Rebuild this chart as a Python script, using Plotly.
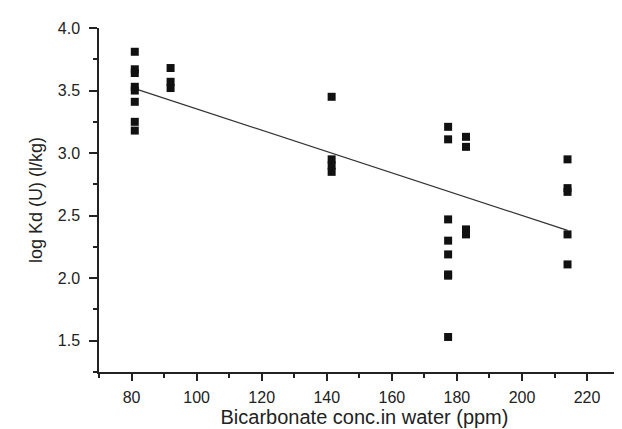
import plotly.graph_objects as go

# Bicarbonate concentration (ppm) groups and measured log Kd values
x_groups = [81.0, 92.0, 141.5, 177.3, 182.8, 214.0]
y_groups = [
    [3.81, 3.67, 3.64, 3.53, 3.50, 3.41, 3.25, 3.18],
    [3.68, 3.57, 3.52],
    [3.45, 2.95, 2.90, 2.85],
    [3.21, 3.11, 2.47, 2.30, 2.19, 2.03, 2.02, 1.53],
    [3.13, 3.05, 2.39, 2.35],
    [2.95, 2.72, 2.69, 2.35, 2.11],
]

# regression line parameters
fit_intercept = 4.205
fit_slope = -0.00852
fit_x = [81.0, 214.0]

xs, ys = [], []
for xv, yl in zip(x_groups, y_groups):
    for yv in yl:
        xs.append(xv)
        ys.append(yv)

fit_y = [fit_intercept + fit_slope * v for v in fit_x]

fig = go.Figure()
fig.add_trace(go.Scatter(
    x=fit_x, y=fit_y, mode="lines",
    line=dict(color="#333333", width=1.2),
    showlegend=False, hoverinfo="skip"))
fig.add_trace(go.Scatter(
    x=xs, y=ys, mode="markers",
    marker=dict(symbol="square", size=8, color="#111111",
                line=dict(width=0)),
    showlegend=False))

font = dict(family="Liberation Sans, Arial, sans-serif", size=16, color="#222222")

fig.update_layout(
    width=622, height=429,
    margin=dict(l=91, r=0, t=20, b=65),
    plot_bgcolor="white", paper_bgcolor="white",
    font=font,
    xaxis=dict(
        range=[70, 233.2], showline=True, linecolor="#222222", linewidth=1.5,
        ticks="outside", ticklen=7, tickwidth=1.5, tickcolor="#222222",
        tick0=0, dtick=20, showgrid=False, zeroline=False,
        minor=dict(ticks="outside", ticklen=4, tickwidth=1.5, dtick=10, tick0=0,
                   tickcolor="#222222", showgrid=False),
        title=dict(text="Bicarbonate conc.in water (ppm)", standoff=2,
                   font=dict(size=20)),
        tickfont=dict(size=16),
        ticklabelstandoff=3,
    ),
    yaxis=dict(
        range=[1.25, 4.0], showline=True, linecolor="#222222", linewidth=1.5,
        ticks="outside", ticklen=8, tickwidth=1.5, tickcolor="#222222",
        tick0=0, dtick=0.5, tickformat=".1f", showgrid=False, zeroline=False,
        minor=dict(ticks="outside", ticklen=4, tickwidth=1.5, dtick=0.25, tick0=0,
                   tickcolor="#222222", showgrid=False),
        title=dict(text="log Kd (U) (l/kg)", standoff=10, font=dict(size=18)),
        tickfont=dict(size=16),
        ticklabelstandoff=6,
    ),
)

fig.write_html("out.html")
